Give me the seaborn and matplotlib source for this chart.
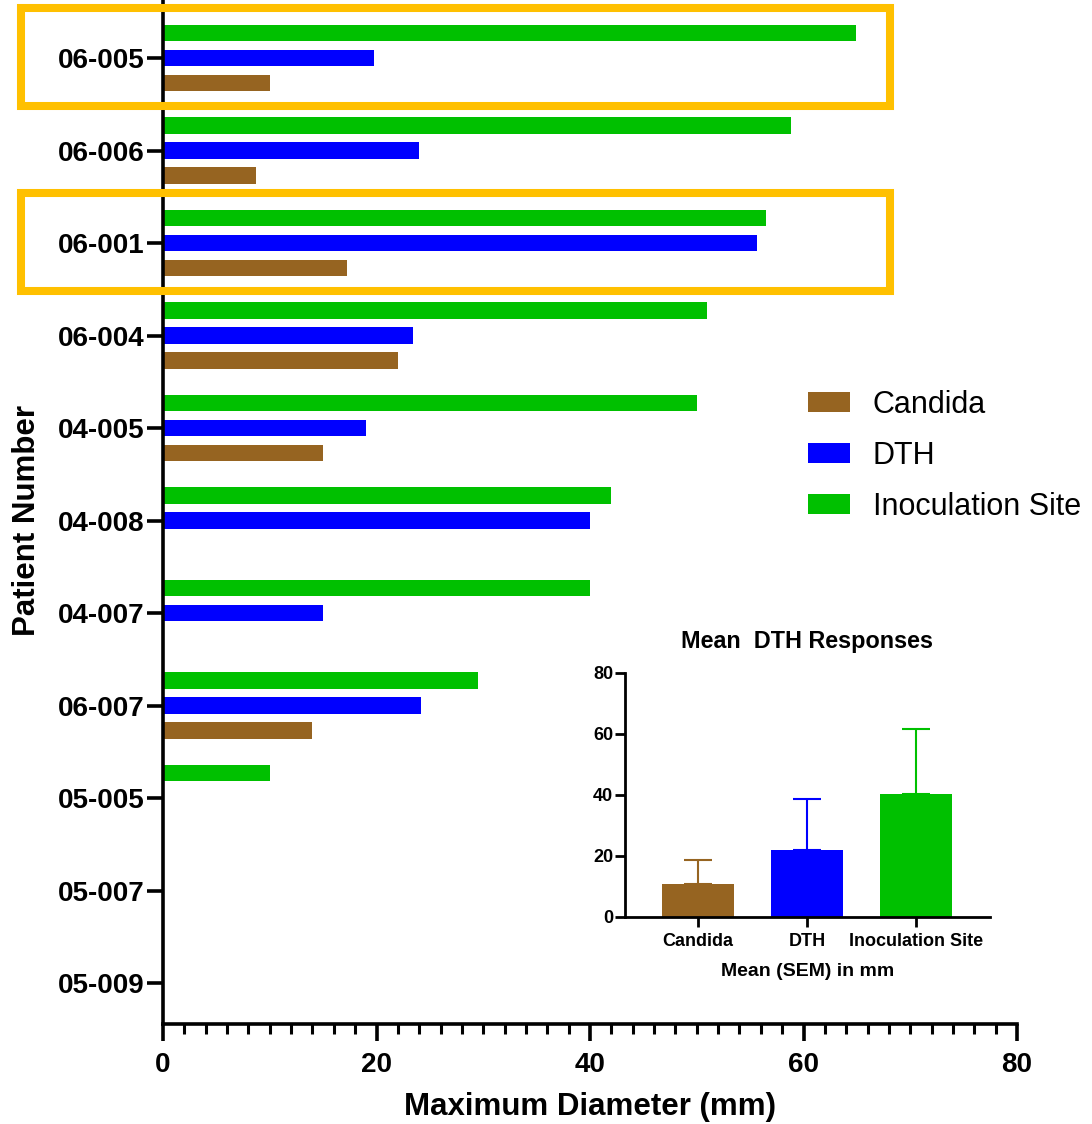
import numpy as np
import pandas as pd
import matplotlib
matplotlib.use("Agg")
import matplotlib.pyplot as plt
import matplotlib.transforms as mtransforms
from matplotlib.patches import Patch, Rectangle
from matplotlib.ticker import MultipleLocator
import seaborn as sns

# ---- data -------------------------------------------------------------
patients = ["06-005", "06-006", "06-001", "06-004", "04-005", "04-008",
            "04-007", "06-007", "05-005", "05-007", "05-009"]
candida = [10.0, 8.7, 17.2, 22.0, 15.0, np.nan, np.nan, 14.0, np.nan, np.nan, np.nan]
dth = [19.8, 24.0, 55.6, 23.4, 19.0, 40.0, 15.0, 24.2, np.nan, np.nan, np.nan]
inoculation = [64.9, 58.8, 56.5, 51.0, 50.0, 42.0, 40.0, 29.5, 10.0, np.nan, np.nan]
highlighted = ["06-005", "06-001"]

groups = ["Candida", "DTH", "Inoculation Site"]
group_means = [10.7, 22.0, 40.1]
group_sem = [8.0, 16.6, 21.5]

colors = {"Candida": "#966421", "DTH": "#0000FF", "Inoculation Site": "#00C000"}
box_color = "#FFC000"

# ---- long-form table ---------------------------------------------------
df = pd.DataFrame({
    "Patient": patients * 3,
    "Response": ["Candida"] * len(patients) + ["DTH"] * len(patients)
                + ["Inoculation Site"] * len(patients),
    "Diameter": candida + dth + inoculation,
}).dropna()

sns.set_style("white")
plt.rcParams["font.family"] = ["Liberation Sans", "DejaVu Sans"]
for key in ("text.color", "axes.labelcolor", "xtick.color", "ytick.color"):
    plt.rcParams[key] = "black"

fig = plt.figure(figsize=(10.92, 11.24), dpi=100)
ax = fig.add_axes([0.14927, 0.08897, 0.78205, 0.91103])

sns.barplot(data=df, x="Diameter", y="Patient", hue="Response",
            order=patients, hue_order=["Inoculation Site", "DTH", "Candida"],
            palette=colors, saturation=1, width=0.81, gap=0.33,
            errorbar=None, linewidth=0, legend=False, ax=ax)

ax.set_xlim(0, 80)
ax.set_ylim(10.443, -0.627)
ax.xaxis.set_major_locator(MultipleLocator(20))
ax.xaxis.set_minor_locator(MultipleLocator(2))
for side in ("top", "right"):
    ax.spines[side].set_visible(False)
for side in ("left", "bottom"):
    ax.spines[side].set_linewidth(2.6)
    ax.spines[side].set_color("black")
ax.tick_params(axis="y", which="major", direction="out", length=11.5, width=2.6,
               pad=2, labelsize=20, left=True)
ax.tick_params(axis="x", which="major", direction="out", length=12, width=2.6,
               pad=8, labelsize=20, bottom=True)
ax.tick_params(axis="x", which="minor", direction="out", length=7, width=2.2,
               bottom=True)
for lab in ax.get_xticklabels() + ax.get_yticklabels():
    lab.set_fontweight("bold")

ax.set_xlabel("Maximum Diameter (mm)", fontsize=22.5, fontweight="bold", labelpad=10)
ax.set_ylabel("Patient Number", fontsize=22.5, fontweight="bold")
ax.yaxis.set_label_coords(-0.142, 0.492)

# highlight frames around selected patients
blend = mtransforms.blended_transform_factory(fig.transFigure, ax.transData)
for p in highlighted:
    i = patients.index(p)
    rect = Rectangle((0.0192, i - 0.54), 0.7958, 1.06, transform=blend,
                     fill=False, edgecolor=box_color, linewidth=5.8,
                     clip_on=False, zorder=5)
    ax.add_artist(rect)

# legend in Candida / DTH / Inoculation Site order
handles = [Patch(facecolor=colors[g], edgecolor="none") for g in groups]
ax.legend(handles, groups, loc="upper left",
          bbox_to_anchor=(808 / 1092, 1 - 390 / 1124), bbox_transform=fig.transFigure,
          frameon=False, borderpad=0, borderaxespad=0, fontsize=22,
          handlelength=1.37, handleheight=0.65, handletextpad=0.75,
          labelspacing=0.68)

# ---- inset: group means with SEM ---------------------------------------
ins = fig.add_axes([0.5723, 0.1844, 0.3343, 0.2171])
mean_df = pd.DataFrame({"Group": groups, "Mean": group_means})
sns.barplot(data=mean_df, x="Group", y="Mean", hue="Group", order=groups,
            palette=colors, saturation=1, width=0.667, errorbar=None,
            linewidth=0, legend=False, ax=ins)
for k, g in enumerate(groups):
    ins.errorbar(k, group_means[k], yerr=[[0], [group_sem[k]]], color=colors[g],
                 capsize=9.9, elinewidth=1.5, capthick=1.5, fmt="none", zorder=1)

ins.set_xlim(-0.67, 2.68)
ins.set_ylim(0, 80)
ins.yaxis.set_major_locator(MultipleLocator(20))
for side in ("top", "right"):
    ins.spines[side].set_visible(False)
for side in ("left", "bottom"):
    ins.spines[side].set_linewidth(2.0)
    ins.spines[side].set_color("black")
ins.tick_params(axis="both", direction="out", length=7, width=2.0, labelsize=13,
                left=True, bottom=True)
ins.tick_params(axis="y", pad=1.5)
ins.tick_params(axis="x", pad=5)
for lab in ins.get_xticklabels() + ins.get_yticklabels():
    lab.set_fontweight("bold")
ins.set_title("Mean  DTH Responses", fontsize=16.8, fontweight="bold", pad=18)
ins.set_xlabel("Mean (SEM) in mm", fontsize=14, fontweight="bold", labelpad=9)
ins.set_ylabel("")
ins.patch.set_alpha(0)

fig.savefig("out.png", dpi=100)
